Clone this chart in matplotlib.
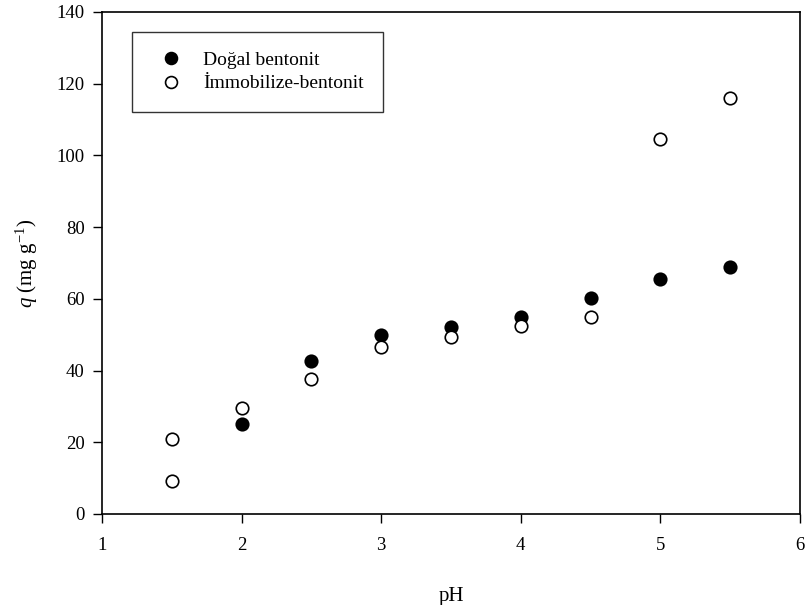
import matplotlib
matplotlib.use('Agg')
import matplotlib.pyplot as plt

plt.rcParams['font.family'] = ['Liberation Serif', 'DejaVu Serif']
plt.rcParams['mathtext.fontset'] = 'custom'
plt.rcParams['mathtext.rm'] = 'Liberation Serif'
plt.rcParams['mathtext.it'] = 'Liberation Serif:italic'

# adsorption capacity vs pH
ph_dogal = [2.0, 2.5, 3.0, 3.5, 4.0, 4.5, 5.0, 5.5]
q_dogal = [25.2, 42.6, 50.0, 52.1, 55.0, 60.2, 65.4, 68.8]

ph_immo = [1.5, 1.5, 2.0, 2.5, 3.0, 3.5, 4.0, 4.5, 5.0, 5.5]
q_immo = [20.8, 9.1, 29.5, 37.6, 46.5, 49.4, 52.3, 55.0, 104.7, 115.9]

fig = plt.figure(figsize=(8.05, 6.05), dpi=100)
ax = fig.add_axes([102/805, 1 - 514/605, 698/805, 502/605])

ax.plot(ph_dogal, q_dogal, 'o', ms=9, mfc='black', mec='black', mew=1.2,
        label='Doğal bentonit', clip_on=False)
ax.plot(ph_immo, q_immo, 'o', ms=9, mfc='white', mec='black', mew=1.2,
        label='İmmobilize-bentonit', clip_on=False)

ax.set_xlim(1, 6)
ax.set_ylim(0, 140)
ax.set_xticks([1, 2, 3, 4, 5, 6])
ax.set_yticks(range(0, 141, 20))
ax.tick_params(direction='out', length=6.5, width=1, labelsize=13.5, pad=6)
ax.tick_params(axis='x', pad=10)
ax.tick_params(top=False, right=False)
for s in ax.spines.values():
    s.set_linewidth(1.2)

ax.set_xlabel('pH', fontsize=15, labelpad=24)
ax.set_ylabel('$q$ (mg g$^{-1}$)', fontsize=15, labelpad=12)

leg = ax.legend(loc='upper left', bbox_to_anchor=(30/698, 1 - 20/502), borderaxespad=0,
                fontsize=14, frameon=True, fancybox=False, edgecolor='black',
                borderpad=1.0, handlelength=2.0, handletextpad=0.65,
                markerscale=0.95, labelspacing=0.3)
leg.get_frame().set_linewidth(1.0)

fig.savefig('out.png', dpi=100)
